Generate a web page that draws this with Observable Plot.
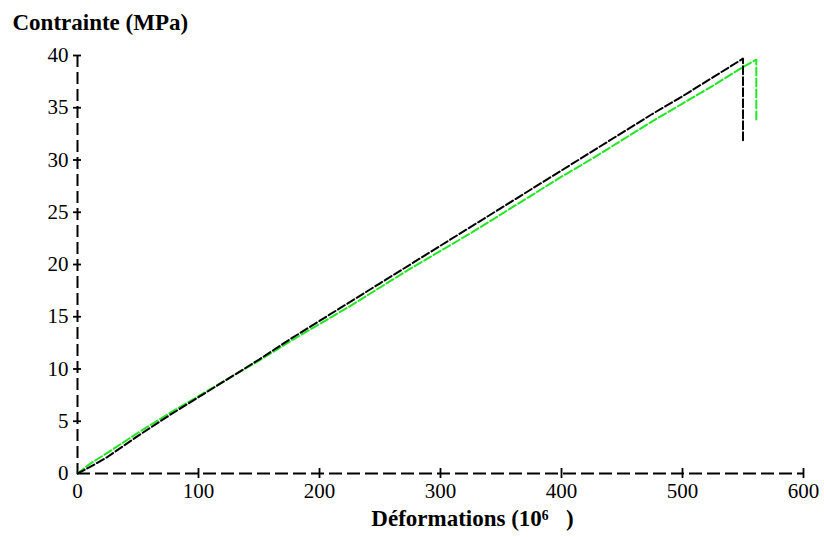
<!DOCTYPE html>
<html>
<head>
<meta charset="utf-8">
<script src="https://cdn.jsdelivr.net/npm/d3@7"></script>
<script src="https://cdn.jsdelivr.net/npm/@observablehq/plot@0.6"></script>
<style>
  html, body { margin: 0; padding: 0; background: #fff; }
</style>
</head>
<body>
<div id="chart"></div>
<script>
// Data
const blackX = [0, 10, 25, 50, 75, 100, 125, 150, 175, 200, 225, 250, 275, 300, 325, 350, 375, 400, 425, 450, 475, 500, 525, 550, 550];
const blackY = [0, 0.6, 1.6, 3.6, 5.5, 7.3, 9.1, 10.9, 12.8, 14.6, 16.4, 18.2, 20.0, 21.8, 23.6, 25.4, 27.2, 29.0, 30.8, 32.6, 34.4, 36.1, 37.9, 39.7, 31.8];
const greenX = [0, 10, 25, 50, 75, 100, 125, 150, 175, 200, 225, 250, 275, 300, 325, 350, 375, 400, 425, 450, 475, 500, 525, 550, 561, 561];
const greenY = [0, 0.9, 2.0, 3.9, 5.7, 7.4, 9.1, 10.8, 12.6, 14.3, 16.0, 17.8, 19.6, 21.3, 23.0, 24.8, 26.6, 28.4, 30.1, 31.9, 33.7, 35.4, 37.1, 38.9, 39.6, 33.8];
const xTickLabels = [0, 100, 200, 300, 400, 500, 600];
const yTickLabels = [0, 5, 10, 15, 20, 25, 30, 35, 40];
const xTickMarks = [100, 200, 300, 400, 500, 600];
const yTickMarks = [5, 10, 15, 20, 25, 30, 35, 40];
const yTitle = "Contrainte (MPa)";
const xTitle = "Déformations (10⁶   )";

const black = blackX.map((x, i) => ({x, y: blackY[i]}));
const green = greenX.map((x, i) => ({x, y: greenY[i]}));

const chart = Plot.plot({
  width: 824,
  height: 537,
  marginLeft: 77,
  marginRight: 21,
  marginTop: 55,
  marginBottom: 64,
  style: {fontFamily: "'Liberation Serif', 'Times New Roman', serif", fontSize: "21px", color: "#000", background: "#fff"},
  x: {domain: [0, 600]},
  y: {domain: [0, 40]},
  marks: [
    Plot.ruleY([0], {stroke: "#000", strokeWidth: 2, strokeDasharray: "13,5"}),
    Plot.ruleX([0], {stroke: "#000", strokeWidth: 2, strokeDasharray: "12,5"}),
    Plot.axisX({ticks: xTickMarks, tickSize: 10, dy: -5, tickFormat: () => "", strokeWidth: 1.8, label: null}),
    Plot.axisY({ticks: yTickMarks, tickSize: 8, dx: 4, tickFormat: () => "", strokeWidth: 1.8, label: null}),
    Plot.axisX({ticks: xTickLabels, tickSize: 0, tickPadding: 10, label: null, fontSize: 21}),
    Plot.axisY({ticks: yTickLabels, tickSize: 0, tickPadding: 9, label: null, fontSize: 21}),
    Plot.line(green, {x: "x", y: "y", stroke: "#22e622", strokeWidth: 2, strokeDasharray: "8,3"}),
    Plot.line(black, {x: "x", y: "y", stroke: "#000", strokeWidth: 2, strokeDasharray: "8,3"}),
    Plot.text([yTitle], {frameAnchor: "top-left", dx: -65, dy: -42, textAnchor: "start", fontWeight: "bold", fontSize: 23}),
    Plot.text([xTitle], {frameAnchor: "bottom", dx: 32, dy: 52, fontWeight: "bold", fontSize: 23})
  ]
});
document.getElementById("chart").appendChild(chart);
</script>
</body>
</html>
